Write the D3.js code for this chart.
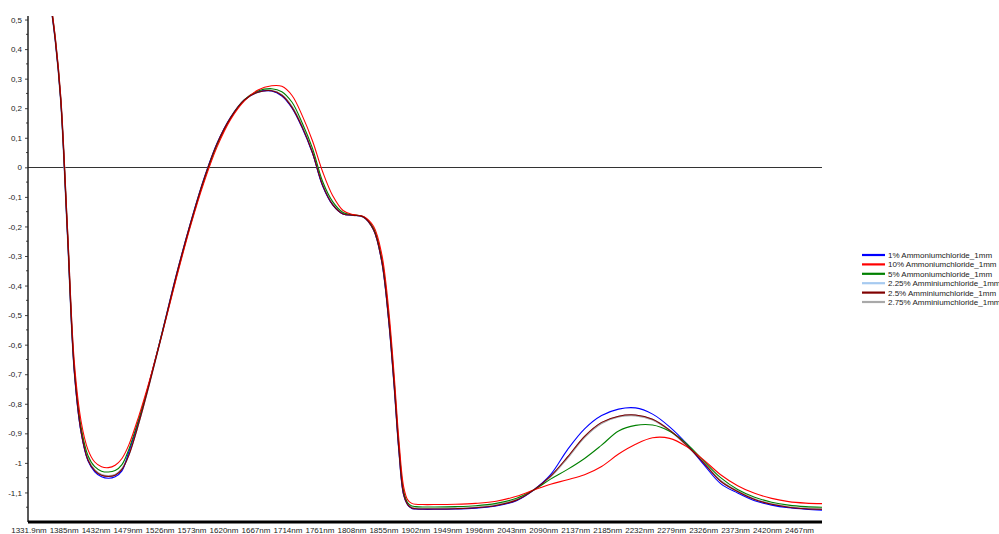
<!DOCTYPE html>
<html>
<head>
<meta charset="utf-8">
<script src="https://cdn.jsdelivr.net/npm/d3@7"></script>
<style>
html,body{margin:0;padding:0;background:#fff;}
svg{display:block;font-family:"Liberation Sans",Arial,sans-serif;}
</style>
</head>
<body>
<svg id="chart" width="999" height="534"></svg>
<script>
// ---------- data ----------
const wavelengths = [1360,1372,1380,1390,1400,1410,1420,1430,1440,1450,1460,1470,1480,1495,1510,1530,1550,1570,1590,1610,1630,1650,1670,1690,1705,1720,1735,1750,1765,1780,1795,1810,1825,1840,1852,1862,1870,1877,1884,1890,1896,1902,1912,1930,1960,1990,2020,2050,2075,2100,2125,2150,2175,2200,2225,2250,2275,2300,2325,2350,2375,2400,2425,2450,2475,2500];

const s1pct = [0.64,0.43,0.228,-0.229,-0.692,-0.898,-0.993,-1.03,-1.047,-1.052,-1.047,-1.027,-0.963,-0.855,-0.73,-0.55,-0.364,-0.195,-0.043,0.082,0.17,0.228,0.255,0.258,0.241,0.2,0.133,0.048,-0.063,-0.128,-0.158,-0.162,-0.168,-0.212,-0.32,-0.516,-0.736,-0.956,-1.108,-1.142,-1.154,-1.156,-1.157,-1.157,-1.156,-1.153,-1.146,-1.128,-1.092,-1.04,-0.955,-0.885,-0.84,-0.818,-0.814,-0.835,-0.878,-0.935,-1.005,-1.07,-1.102,-1.128,-1.143,-1.152,-1.157,-1.16];

const s10pct = [0.65,0.44,0.24,-0.21,-0.66,-0.86,-0.955,-0.997,-1.013,-1.016,-1.008,-0.985,-0.94,-0.84,-0.725,-0.555,-0.375,-0.205,-0.055,0.07,0.163,0.225,0.262,0.276,0.274,0.243,0.175,0.09,-0.015,-0.097,-0.146,-0.16,-0.166,-0.2,-0.295,-0.48,-0.7,-0.92,-1.08,-1.125,-1.137,-1.14,-1.141,-1.141,-1.14,-1.137,-1.13,-1.113,-1.092,-1.072,-1.057,-1.04,-1.012,-0.97,-0.937,-0.915,-0.917,-0.945,-0.99,-1.04,-1.077,-1.103,-1.12,-1.131,-1.136,-1.138];

const s5pct = [0.645,0.435,0.232,-0.22,-0.68,-0.88,-0.975,-1.013,-1.028,-1.031,-1.026,-1.006,-0.955,-0.85,-0.73,-0.552,-0.37,-0.2,-0.048,0.077,0.168,0.228,0.258,0.266,0.256,0.22,0.15,0.065,-0.048,-0.117,-0.153,-0.161,-0.167,-0.207,-0.31,-0.5,-0.72,-0.94,-1.095,-1.135,-1.146,-1.148,-1.149,-1.149,-1.148,-1.145,-1.137,-1.12,-1.092,-1.055,-1.022,-0.985,-0.94,-0.892,-0.873,-0.872,-0.893,-0.935,-0.993,-1.05,-1.09,-1.116,-1.133,-1.143,-1.148,-1.15];

const s225pct = [0.641,0.431,0.229,-0.226,-0.688,-0.893,-0.988,-1.025,-1.041,-1.045,-1.041,-1.021,-0.973,-0.862,-0.735,-0.553,-0.366,-0.197,-0.045,0.08,0.169,0.228,0.254,0.26,0.245,0.205,0.138,0.052,-0.06,-0.126,-0.157,-0.162,-0.168,-0.211,-0.318,-0.512,-0.732,-0.952,-1.105,-1.14,-1.152,-1.154,-1.155,-1.155,-1.154,-1.151,-1.143,-1.125,-1.092,-1.046,-0.982,-0.912,-0.865,-0.843,-0.839,-0.853,-0.889,-0.94,-1.0,-1.061,-1.096,-1.123,-1.139,-1.149,-1.154,-1.156];

const s25pct = [0.64,0.43,0.228,-0.228,-0.69,-0.895,-0.99,-1.026,-1.042,-1.046,-1.042,-1.022,-0.975,-0.864,-0.736,-0.553,-0.365,-0.196,-0.044,0.081,0.169,0.228,0.254,0.259,0.244,0.203,0.136,0.05,-0.061,-0.127,-0.158,-0.162,-0.168,-0.212,-0.319,-0.514,-0.734,-0.954,-1.106,-1.141,-1.153,-1.155,-1.156,-1.156,-1.155,-1.152,-1.144,-1.126,-1.092,-1.045,-0.98,-0.91,-0.863,-0.842,-0.838,-0.852,-0.889,-0.94,-1.0,-1.062,-1.097,-1.124,-1.14,-1.15,-1.155,-1.157];

const s275pct = [0.642,0.432,0.23,-0.225,-0.686,-0.892,-0.987,-1.024,-1.04,-1.044,-1.04,-1.02,-0.972,-0.861,-0.734,-0.552,-0.365,-0.197,-0.045,0.08,0.169,0.228,0.255,0.26,0.245,0.205,0.138,0.052,-0.059,-0.126,-0.157,-0.162,-0.168,-0.211,-0.317,-0.511,-0.731,-0.951,-1.104,-1.14,-1.152,-1.154,-1.155,-1.155,-1.154,-1.151,-1.143,-1.125,-1.092,-1.047,-0.983,-0.913,-0.866,-0.844,-0.84,-0.854,-0.89,-0.941,-1.0,-1.06,-1.096,-1.123,-1.139,-1.149,-1.154,-1.156];

const seriesNames = ["1% Ammoniumchloride_1mm","10% Ammoniumchloride_1mm","5% Ammoniumchloride_1mm","2.25% Amminiumchloride_1mm","2.5% Amminiumchloride_1mm","2.75% Amminiumchloride_1mm"];
const seriesColors = ["#0000ff","#ff0000","#008000","#a6caf0","#800000","#a9a9a9"];
const seriesValues = [s1pct,s10pct,s5pct,s225pct,s25pct,s275pct];

const xTickLabels = ["1331.9nm","1385nm","1432nm","1479nm","1526nm","1573nm","1620nm","1667nm","1714nm","1761nm","1808nm","1855nm","1902nm","1949nm","1996nm","2043nm","2090nm","2137nm","2185nm","2232nm","2279nm","2326nm","2373nm","2420nm","2467nm"];
const xTickPositions = [1331.9,1385,1432,1479,1526,1573,1620,1667,1714,1761,1808,1855,1902,1949,1996,2043,2090,2137,2184,2231,2278,2325,2372,2419,2466];
const yTickValues = [0.5,0.4,0.3,0.2,0.1,0,-0.1,-0.2,-0.3,-0.4,-0.5,-0.6,-0.7,-0.8,-0.9,-1,-1.1];

// ---------- layout ----------
const svg = d3.select("#chart");
const pL = 28, pR = 822, pT = 16, pB = 522;

const x = d3.scaleLinear().domain([1331.9, 2499]).range([pL, pR]);
const y = d3.scaleLinear().domain([-1.2, 0.512]).range([pB, pT]);

const fmt = v => (v === 0 ? "0" : String(v).replace(".", ","));

svg.append("defs").append("clipPath").attr("id","plotclip")
  .append("rect").attr("x", pL).attr("y", pT).attr("width", pR-pL).attr("height", pB-pT);

// zero line
svg.append("line").attr("x1", pL).attr("x2", pR).attr("y1", Math.round(y(0))+0.5).attr("y2", Math.round(y(0))+0.5)
  .attr("stroke", "#333").attr("stroke-width", 1);

// y axis
const yAxis = d3.axisLeft(y).tickValues(yTickValues).tickFormat(fmt).tickSize(3).tickPadding(3);
const gy = svg.append("g").attr("transform", `translate(${pL},0)`).call(yAxis);
gy.select(".domain").remove();
gy.selectAll("text").attr("font-size", 8).attr("fill", "#222").attr("font-family", '"Liberation Sans",Arial,sans-serif');
gy.selectAll(".tick line").attr("stroke", "#444");
const minorVals = d3.range(-1.15, 0.5, 0.1).map(v => +v.toFixed(2));
svg.append("g").selectAll("line").data(minorVals).join("line")
  .attr("x1", pL-2).attr("x2", pL).attr("y1", d => y(d)).attr("y2", d => y(d))
  .attr("stroke", "#444");
svg.append("line").attr("x1", pL).attr("x2", pL).attr("y1", pT).attr("y2", pB)
  .attr("stroke", "#222").attr("stroke-width", 1.5);

// x labels
svg.append("g").selectAll("text").data(xTickLabels).join("text")
  .attr("x", (d,i) => x(xTickPositions[i]) + (i===0 ? 1 : 0))
  .attr("y", 532.5)
  .attr("text-anchor","middle")
  .attr("font-size", 8).attr("fill","#222")
  .text(d => d);

// bottom axis thick line
svg.append("line").attr("x1", pL).attr("x2", pR).attr("y1", pB).attr("y2", pB)
  .attr("stroke", "#000").attr("stroke-width", 3);

// series lines
const line = d3.line().x(d => x(d[0])).y(d => y(d[1])).curve(d3.curveCatmullRom.alpha(0.5));
const g = svg.append("g").attr("clip-path","url(#plotclip)");
const order = [3,5,0,2,1,4];
order.forEach(i => {
  const pts = wavelengths.map((w,k) => [w, seriesValues[i][k]]);
  g.append("path").attr("d", line(pts)).attr("fill","none")
    .attr("stroke", seriesColors[i]).attr("stroke-width", (i===3||i===5) ? 1.6 : 1.1);
});

// legend
const lg = svg.append("g");
seriesNames.forEach((n,i) => {
  const yy = 255 + i*9.4;
  lg.append("line").attr("x1", 862).attr("x2", 885).attr("y1", yy).attr("y2", yy)
    .attr("stroke", seriesColors[i]).attr("stroke-width", 2.2);
  lg.append("text").attr("x", 888).attr("y", yy + 3).attr("font-size", 8).attr("fill","#222").text(n);
});
</script>
</body>
</html>
